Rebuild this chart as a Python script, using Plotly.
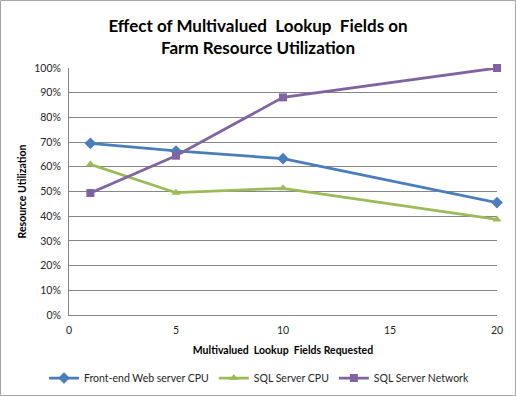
import plotly.graph_objects as go

fields = [1, 5, 10, 20]
web_cpu = [0.695, 0.664, 0.633, 0.455]
sql_cpu = [0.61, 0.495, 0.513, 0.387]
sql_net = [0.494, 0.645, 0.881, 1.0]
series_names = ["Front-end Web server CPU", "SQL Server CPU", "SQL Server Network"]
x_ticks = [0, 5, 10, 15, 20]
y_ticks = [i / 10 for i in range(11)]

colors = ["#4A7EBB", "#9BBB59", "#8064A2"]
symbols = ["diamond", "triangle-up", "square"]

fig = go.Figure()
for name, vals, c, s in zip(series_names, [web_cpu, sql_cpu, sql_net], colors, symbols):
    fig.add_trace(go.Scatter(
        x=fields, y=vals, name=name, mode="lines+markers",
        line=dict(color=c, width=2.75),
        marker=dict(symbol=s, size=8 if s != "diamond" else 9, color=c),
        cliponaxis=False,
    ))

L, R, T, B = 69, 19, 68, 81
W, H = 516, 396
pw, ph = W - L - R, H - T - B

fig.update_layout(
    width=W, height=H,
    margin=dict(l=L, r=R, t=T, b=B, autoexpand=False),
    paper_bgcolor="white", plot_bgcolor="white",
    font=dict(family="Lato, Noto Sans, sans-serif", size=10.5, color="#262626"),
    title=dict(
        text="<b>Effect of Multivalued  Lookup  Fields on<br>Farm Resource Utilization</b>",
        x=0.5, xanchor="center", y=1 - 31.5 / H, yanchor="middle",
        font=dict(size=17, color="#000000"),
    ),
    xaxis=dict(
        range=[0, 20], tickvals=x_ticks, showgrid=False, zeroline=False,
        showline=True, linecolor="#868686", linewidth=1, ticks="",
        ticklabelstandoff=5,
        title=dict(text="<b>Multivalued  Lookup  Fields Requested</b>", font=dict(size=10.5, color="#000"), standoff=12),
        tickfont=dict(size=10.5),
    ),
    yaxis=dict(
        range=[0, 1], tickvals=y_ticks, tickformat=".0%", showgrid=True,
        gridcolor="#868686", gridwidth=1, zeroline=False,
        showline=True, linecolor="#868686", linewidth=1, ticks="",
        ticklabelstandoff=5,
        title=dict(text="<b>Resource Utilization</b>", font=dict(size=10.5, color="#000"), standoff=5),
        tickfont=dict(size=10.5),
    ),
    legend=dict(
        orientation="h", xref="container", yref="container",
        x=0.502, xanchor="center", y=1 - 378 / H, yanchor="middle",
        font=dict(size=10.5), itemwidth=30, tracegroupgap=0,
    ),
    showlegend=True,
)

fig.add_shape(
    type="rect", xref="paper", yref="paper",
    x0=(0.5 - L) / pw, x1=(W - 0.5 - L) / pw,
    y0=(0.5 - B) / ph, y1=(H - 0.5 - B) / ph,
    line=dict(color="#A6A6A6", width=1), fillcolor="rgba(0,0,0,0)", layer="above",
)

fig.write_html("out.html", config={"displayModeBar": False},
               post_script="document.body.style.margin='0';")
